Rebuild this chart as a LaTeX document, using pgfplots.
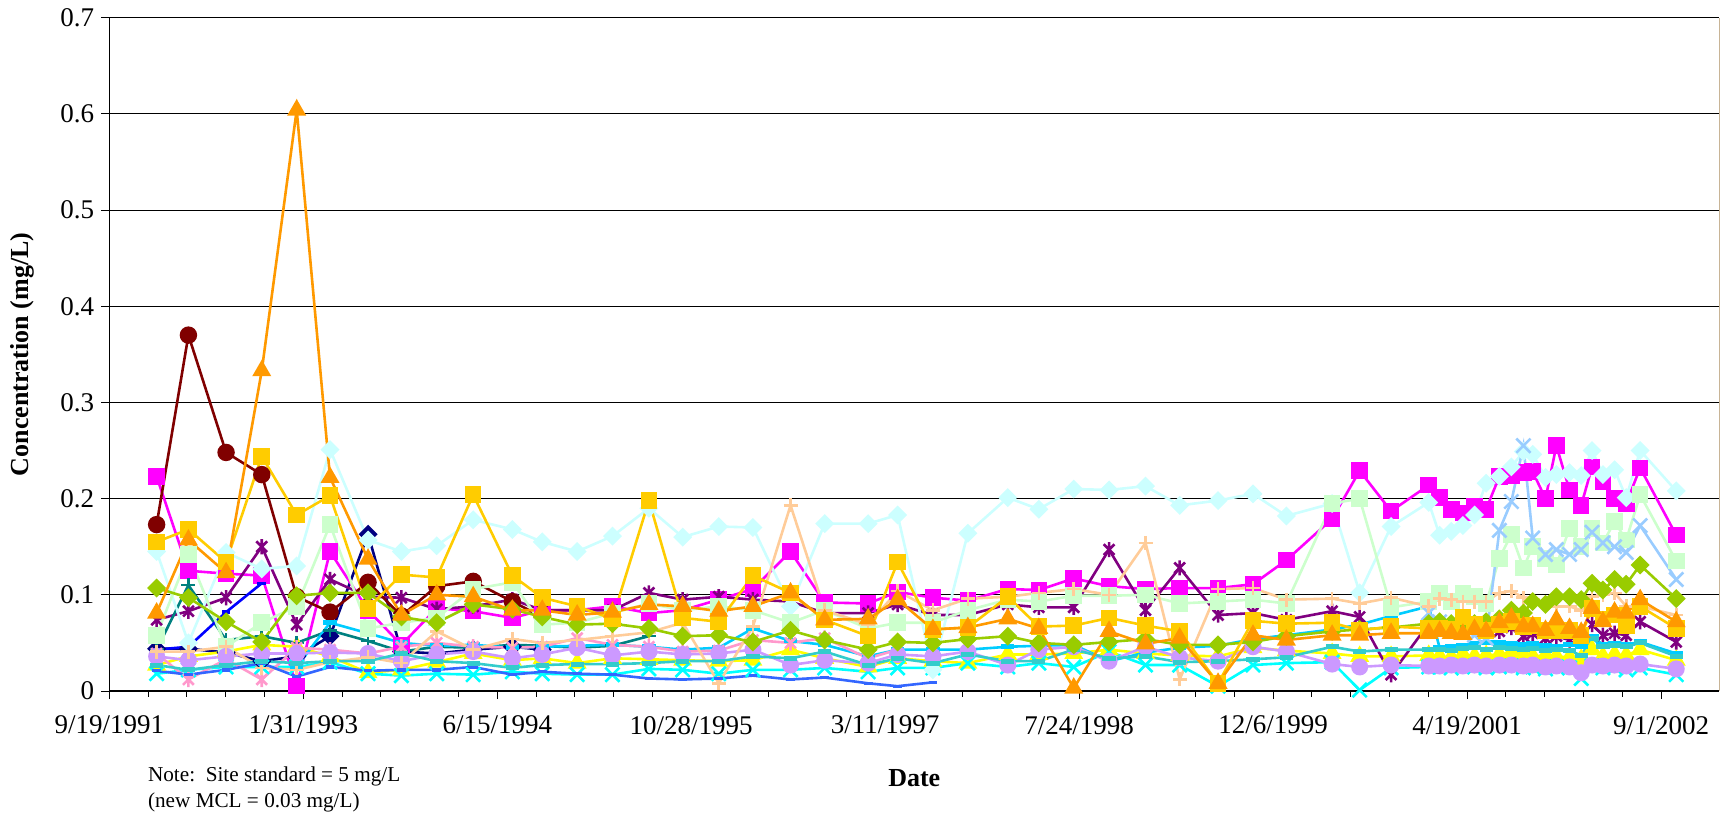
\documentclass[border=0pt]{standalone}
\usepackage{fontspec}
\setmainfont{Liberation Serif}
\usepackage{pgfplots}
\usepackage{pgfplotstable}
\pgfplotsset{compat=1.18}

\definecolor{c1}{HTML}{000080}
\definecolor{c2}{HTML}{FF00FF}
\definecolor{c3}{HTML}{FFFF00}
\definecolor{c4}{HTML}{00FFFF}
\definecolor{c5}{HTML}{800080}
\definecolor{c6}{HTML}{800000}
\definecolor{c7}{HTML}{008080}
\definecolor{c8}{HTML}{0000FF}
\definecolor{c9}{HTML}{00CCFF}
\definecolor{c10}{HTML}{CCFFFF}
\definecolor{c11}{HTML}{CCFFCC}
\definecolor{c13}{HTML}{99CCFF}
\definecolor{c14}{HTML}{FF99CC}
\definecolor{c15}{HTML}{CC99FF}
\definecolor{c16}{HTML}{FFCC99}
\definecolor{c17}{HTML}{3366FF}
\definecolor{c18}{HTML}{33CCCC}
\definecolor{c19}{HTML}{99CC00}
\definecolor{c20}{HTML}{FFCC00}
\definecolor{c21}{HTML}{FF9900}
\definecolor{frametan}{HTML}{C8B496}

% Excel-like markers
\pgfdeclareplotmark{xstar}{%
  \pgfpathmoveto{\pgfqpoint{-.7071\pgfplotmarksize}{-.7071\pgfplotmarksize}}%
  \pgfpathlineto{\pgfqpoint{.7071\pgfplotmarksize}{.7071\pgfplotmarksize}}%
  \pgfpathmoveto{\pgfqpoint{-.7071\pgfplotmarksize}{.7071\pgfplotmarksize}}%
  \pgfpathlineto{\pgfqpoint{.7071\pgfplotmarksize}{-.7071\pgfplotmarksize}}%
  \pgfpathmoveto{\pgfqpoint{0pt}{-\pgfplotmarksize}}%
  \pgfpathlineto{\pgfqpoint{0pt}{\pgfplotmarksize}}%
  \pgfusepathqstroke}
\pgfdeclareplotmark{bar}{%
  \pgfpathrectangle{\pgfqpoint{-\pgfplotmarksize}{-.38\pgfplotmarksize}}%
    {\pgfqpoint{2\pgfplotmarksize}{.76\pgfplotmarksize}}%
  \pgfusepathqfill}

% quarterly sampling dates (Excel serials), one column per well
\pgfplotstableread{
d s1 s2 s3 s4 s5 s6 s7 s8 s9 s10 s11 s13 s14 s15 s16 s17 s18 s19 s20 s21
33622 0.044 0.223 0.027 0.018 0.074 0.173 0.043 0.043 nan 0.145 0.058 nan 0.039 0.036 0.041 0.021 0.027 0.107 0.155 0.081
33704 0.044 0.125 0.036 0.022 0.083 0.370 0.110 0.046 nan 0.050 0.142 nan 0.012 0.032 0.041 0.017 0.022 0.097 0.168 0.157
33801 0.040 0.122 0.041 0.025 0.097 0.248 0.053 0.082 nan 0.144 0.046 nan 0.033 0.036 0.046 0.022 0.027 0.072 0.134 0.123
33893 0.031 0.120 0.048 0.025 0.150 0.225 0.057 0.112 nan 0.127 0.071 nan 0.012 0.039 0.024 0.029 0.031 0.051 0.244 0.333
33983 0.036 0.005 0.046 0.025 0.069 0.098 0.050 nan 0.025 0.130 0.088 nan 0.045 0.039 0.022 0.015 0.029 0.099 0.183 0.604
34069 0.057 0.145 0.036 0.030 0.116 0.082 0.063 nan 0.071 0.251 0.173 nan 0.043 0.040 0.030 0.025 0.031 0.102 0.203 0.222
34167 0.163 0.084 0.019 0.018 0.098 0.113 0.052 nan 0.060 0.157 0.065 nan 0.039 0.039 0.035 0.021 0.031 0.102 0.086 0.137
34253 0.041 0.048 0.022 0.016 0.097 0.078 0.041 nan 0.050 0.145 0.071 nan 0.046 0.031 0.029 0.022 0.039 0.077 0.121 0.079
34344 0.039 0.086 0.030 0.018 0.085 0.109 0.046 nan 0.047 0.151 0.076 nan 0.050 0.038 0.062 0.022 0.031 0.071 0.118 0.100
34438 0.043 0.083 0.039 0.017 0.088 0.114 0.045 nan 0.048 0.178 0.106 nan 0.046 0.041 0.043 0.025 0.029 0.090 0.204 0.098
34539 0.046 0.076 0.032 0.020 0.095 0.093 0.048 nan 0.045 0.168 0.113 nan 0.045 0.034 0.054 0.017 0.024 0.085 0.120 0.084
34616 0.043 0.084 0.034 0.018 0.084 0.077 0.047 nan 0.046 0.155 0.069 nan 0.046 0.038 0.050 0.020 0.027 0.077 0.097 0.084
34706 nan 0.084 0.029 0.017 0.084 nan 0.045 nan 0.047 0.145 0.071 nan 0.055 0.045 0.053 0.018 0.028 0.069 0.088 0.079
34797 nan 0.088 0.034 0.017 0.084 nan 0.047 nan 0.048 0.161 0.081 nan 0.048 0.037 0.057 0.017 0.028 0.070 0.075 0.082
34891 nan 0.081 0.033 0.023 0.102 nan 0.057 nan 0.046 0.190 0.091 nan 0.046 0.041 0.061 0.013 0.029 0.065 0.198 0.090
34978 nan 0.084 0.032 0.022 0.095 nan nan nan 0.043 0.160 0.084 nan 0.041 0.038 0.071 0.012 0.031 0.057 0.076 0.088
35071 nan 0.095 0.031 0.018 0.098 nan nan nan 0.045 0.171 0.088 nan 0.042 0.039 0.008 0.013 0.031 0.058 0.072 0.083
35159 nan 0.106 0.032 0.022 0.095 nan nan nan 0.065 0.170 0.084 nan 0.053 0.043 0.067 0.016 0.036 0.051 0.120 0.088
35256 nan 0.145 0.043 0.022 0.093 nan nan nan 0.052 0.088 0.071 nan 0.050 0.027 0.193 0.012 0.034 0.063 0.102 0.102
35344 nan 0.092 0.034 0.024 0.081 nan nan nan 0.048 0.174 0.084 nan 0.055 0.032 0.084 0.014 0.041 0.053 0.074 0.074
35456 nan 0.091 0.025 0.020 0.081 nan nan nan 0.036 0.174 0.065 nan 0.034 0.029 0.069 0.008 0.027 0.043 0.057 0.075
35532 nan 0.103 0.034 0.024 0.090 nan nan nan 0.043 0.183 0.071 nan 0.043 0.038 0.104 0.005 0.034 0.051 0.134 0.095
35623 nan 0.097 0.031 0.024 0.079 nan nan nan 0.043 0.022 0.071 nan nan 0.036 0.084 0.009 0.029 0.050 0.064 0.064
35713 nan 0.094 0.029 0.029 0.079 nan nan nan 0.043 0.164 0.084 nan nan 0.041 0.096 nan 0.038 0.054 0.066 0.066
35816 nan 0.106 0.038 0.025 0.090 nan nan nan 0.046 0.201 0.095 nan nan 0.027 0.098 nan 0.031 0.057 0.098 0.075
35896 nan 0.105 0.038 0.029 0.087 nan nan nan 0.047 0.189 0.093 nan nan 0.043 0.102 nan 0.031 0.050 0.067 0.065
35986 nan 0.117 0.039 0.025 0.087 nan nan nan 0.048 0.210 0.099 nan nan 0.046 0.106 nan 0.043 0.048 0.068 0.003
36077 nan 0.109 0.043 0.041 0.147 nan nan nan 0.031 0.209 0.099 nan nan 0.031 0.100 nan 0.034 0.051 0.076 0.062
36171 nan 0.106 0.039 0.027 0.084 nan nan nan 0.040 0.213 0.100 nan nan 0.046 0.154 nan 0.036 0.054 0.068 0.049
36259 nan 0.107 0.037 0.027 0.128 nan nan nan 0.045 0.193 0.091 nan nan 0.035 0.012 nan 0.030 0.048 0.062 0.055
36358 nan 0.107 0.036 0.005 0.079 nan nan nan 0.047 0.198 0.093 nan nan 0.031 0.106 nan 0.031 0.048 0.008 0.008
36448 nan 0.111 0.045 0.027 0.081 nan nan nan 0.054 0.205 0.095 nan nan 0.046 0.107 nan 0.033 0.051 0.073 0.058
36534 nan 0.136 0.042 0.029 0.074 nan nan nan 0.058 0.182 0.091 nan nan 0.041 0.095 nan 0.035 0.057 0.070 0.053
36652 nan 0.179 0.039 0.030 0.083 nan nan nan 0.064 0.195 0.195 nan nan 0.028 0.096 nan 0.046 0.062 0.071 0.058
36723 nan 0.229 0.036 0.001 0.077 nan nan nan 0.069 0.102 0.200 nan nan 0.025 0.091 nan 0.041 0.064 0.063 0.058
36804 nan 0.187 0.036 0.024 0.017 nan nan nan 0.078 0.171 0.087 nan nan 0.027 0.097 nan 0.043 0.066 0.067 0.060
36901 nan 0.214 0.037 0.025 0.070 nan nan nan 0.088 0.196 0.093 0.081 nan 0.026 0.088 nan 0.043 0.070 0.065 0.060
36929 nan 0.201 0.036 0.025 0.068 nan nan nan 0.045 0.162 0.102 0.072 nan 0.026 0.096 nan 0.043 0.072 0.065 0.062
36959 nan 0.189 0.035 0.024 0.066 nan nan nan 0.046 0.166 0.093 0.068 nan 0.027 0.095 nan 0.042 0.070 0.064 0.060
36989 nan 0.185 0.038 0.026 0.065 nan nan nan 0.047 0.172 0.102 0.062 nan 0.026 0.093 nan 0.044 0.071 0.077 0.059
37019 nan 0.192 0.036 0.025 0.066 nan nan nan 0.049 0.183 0.098 0.058 nan 0.027 0.093 nan 0.045 0.070 0.069 0.064
37049 nan 0.189 0.037 0.024 0.062 nan nan nan 0.050 0.216 0.091 0.055 nan 0.026 0.093 nan 0.043 0.072 0.063 0.062
37083 nan 0.223 0.038 0.025 0.062 nan nan nan 0.050 0.223 0.138 0.167 nan 0.027 0.102 nan 0.045 0.075 0.069 0.071
37114 nan 0.224 0.040 0.026 0.066 nan nan nan 0.049 0.233 0.163 0.197 nan 0.027 0.104 nan 0.044 0.084 0.072 0.076
37145 nan 0.227 0.038 0.024 0.057 nan nan nan 0.048 0.249 0.128 0.255 nan 0.026 0.097 nan 0.043 0.081 0.067 0.067
37169 nan 0.228 0.036 0.025 0.060 nan nan nan 0.049 0.246 0.150 0.159 nan 0.027 0.095 nan 0.044 0.093 0.068 0.067
37202 nan 0.200 0.037 0.023 0.055 nan nan nan 0.047 0.222 0.138 0.142 nan 0.025 0.090 nan 0.042 0.090 0.063 0.063
37230 nan 0.255 0.036 0.025 0.057 nan nan nan 0.046 0.225 0.131 0.147 nan 0.026 0.088 nan 0.043 0.098 0.063 0.074
37264 nan 0.209 0.035 0.024 0.053 nan nan nan 0.048 0.227 0.169 0.142 nan 0.025 0.088 nan 0.042 0.098 0.063 0.065
37294 nan 0.193 0.033 0.013 0.058 nan nan nan 0.046 0.224 0.150 0.147 nan 0.019 0.084 nan 0.037 0.095 0.058 0.061
37322 nan 0.233 0.043 0.026 0.069 nan nan nan 0.057 0.250 0.169 0.165 nan 0.027 0.098 nan 0.055 0.112 0.086 0.086
37350 nan 0.218 0.036 0.024 0.058 nan nan nan 0.048 0.225 0.154 0.154 nan 0.026 0.100 nan 0.046 0.105 0.075 0.072
37380 nan 0.200 0.038 0.025 0.060 nan nan nan 0.049 0.230 0.176 0.150 nan 0.027 0.102 nan 0.047 0.116 0.079 0.082
37410 nan 0.195 0.037 0.022 0.058 nan nan nan 0.048 0.201 0.157 0.144 nan 0.026 0.088 nan 0.046 0.111 0.068 0.081
37446 nan 0.232 0.043 0.024 0.072 nan nan nan 0.051 0.250 0.204 0.172 nan 0.028 0.088 nan 0.050 0.131 0.088 0.095
37539 nan 0.162 0.032 0.017 0.051 nan nan nan 0.039 0.208 0.135 0.116 nan 0.023 0.079 nan 0.036 0.096 0.065 0.072
}\data

\begin{document}
\begin{tikzpicture}
\begin{axis}[
    scale only axis,
    width=805pt, height=336.65pt,
    xmin=33500, xmax=37650,
    ymin=0, ymax=0.7,
    axis x line*=bottom, axis y line*=left,
    axis line style={black, line width=0.6pt},
    xtick={33500,34000,34500,35000,35500,36000,36500,37000,37500},
    xticklabels={9/19/1991,1/31/1993,6/15/1994,10/28/1995,3/11/1997,7/24/1998,12/6/1999,4/19/2001,9/1/2002},
    scaled x ticks=false,
    minor x tick num=4,
    ytick={0,0.1,0.2,0.3,0.4,0.5,0.6,0.7},
    ymajorgrids,
    major grid style={black, line width=0.5pt},
    tick align=outside,
    major tick length=4pt, minor tick length=2.85pt,
    tick style={black, line width=0.5pt},
    /pgf/number format/assume math mode=true,
    ticklabel style={font=\fontsize{13.5}{15}\selectfont},
    xticklabel style={yshift=-5pt},
    yticklabel style={/pgf/number format/fixed},
    xlabel={Date},
    ylabel={Concentration (mg/L)},
    label style={font=\fontsize{13}{15}\selectfont\bfseries},
    xlabel style={at={(axis description cs:0.5,-0.1292)}, anchor=center},
    ylabel style={at={(axis description cs:-0.0542,0.5)}, anchor=center},
    clip=false,
    unbounded coords=discard,
    every axis plot/.append style={line width=1.3pt},
]
\coordinate (sw) at (rel axis cs:0,0);
\coordinate (ne) at (rel axis cs:1,1);
\draw[frametan, line width=0.8pt] (rel axis cs:1,0) -- (rel axis cs:1,1);

\addplot[c1, mark=square*, mark options={rotate=45}, mark size=2.7pt] table[x=d,y=s1]{\data};
\addplot[c2, mark=square*, mark size=3.5pt] table[x=d,y=s2]{\data};
\addplot[c3, mark=triangle*, mark size=4.2pt] table[x=d,y=s3]{\data};
\addplot[c4, mark=x, mark size=5pt] table[x=d,y=s4]{\data};
\addplot[c5, mark=xstar, mark size=3.8pt] table[x=d,y=s5]{\data};
\addplot[c6, mark=*, mark size=3.7pt] table[x=d,y=s6]{\data};
\addplot[c7, mark=+, mark size=3.5pt] table[x=d,y=s7]{\data};
\addplot[c8, mark=bar, mark size=2.2pt] table[x=d,y=s8]{\data};
\addplot[c9, mark=bar, mark size=3.3pt] table[x=d,y=s9]{\data};
\addplot[c10, mark=square*, mark options={rotate=45}, mark size=2.7pt] table[x=d,y=s10]{\data};
\addplot[c11, mark=square*, mark size=3.5pt] table[x=d,y=s11]{\data};
\addplot[c13, mark=x, mark size=5pt] table[x=d,y=s13]{\data};
\addplot[c14, mark=xstar, mark size=3.8pt] table[x=d,y=s14]{\data};
\addplot[c15, mark=*, mark size=3.6pt] table[x=d,y=s15]{\data};
\addplot[c16, mark=+, mark size=3.5pt] table[x=d,y=s16]{\data};
\addplot[c17, mark=bar, mark size=2.2pt] table[x=d,y=s17]{\data};
\addplot[c18, mark=bar, mark size=3.3pt] table[x=d,y=s18]{\data};
\addplot[c19, mark=square*, mark options={rotate=45}, mark size=2.7pt] table[x=d,y=s19]{\data};
\addplot[c20, mark=square*, mark size=3.5pt] table[x=d,y=s20]{\data};
\addplot[c21, mark=triangle*, mark size=4.2pt] table[x=d,y=s21]{\data};

\node[anchor=west, font=\fontsize{10.6}{12}\selectfont] at (axis description cs:0.0197,-0.1262) {Note:\ \ Site standard = 5 mg/L};
\node[anchor=west, font=\fontsize{10.6}{12}\selectfont] at (axis description cs:0.0197,-0.1649) {(new MCL = 0.03 mg/L)};
\end{axis}
\pgfresetboundingbox
\path[use as bounding box] ([shift={(-54.65pt,-64.5pt)}]sw) rectangle ([shift={(3.35pt,8.85pt)}]ne);
\end{tikzpicture}
\end{document}
